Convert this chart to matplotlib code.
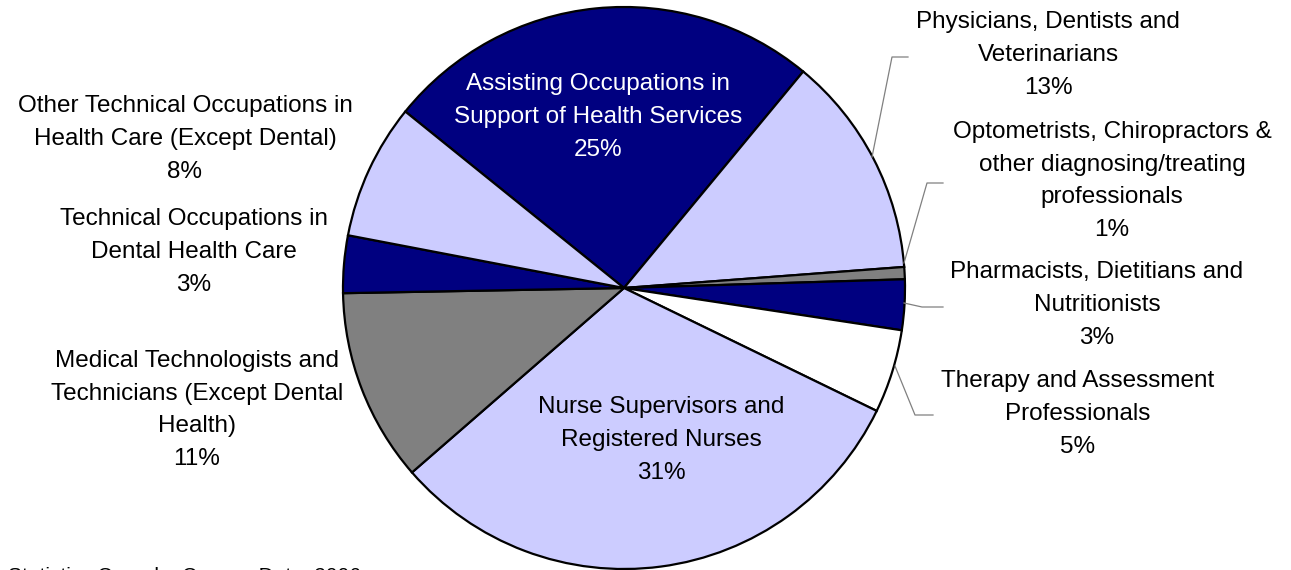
import matplotlib.pyplot as plt

plt.rcParams['font.family'] = ['Liberation Sans', 'DejaVu Sans']

# Shares of health occupations (percent), clockwise from upper left
categories = [
    'Assisting Occupations in\nSupport of Health Services',
    'Physicians, Dentists and\nVeterinarians',
    'Optometrists, Chiropractors &\nother diagnosing/treating\nprofessionals',
    'Pharmacists, Dietitians and\nNutritionists',
    'Therapy and Assessment\nProfessionals',
    'Nurse Supervisors and\nRegistered Nurses',
    'Medical Technologists and\nTechnicians (Except Dental\nHealth)',
    'Technical Occupations in\nDental Health Care',
    'Other Technical Occupations in\nHealth Care (Except Dental)',
]
shares = [25.2, 12.8, 0.7, 2.9, 4.8, 31.4, 11.1, 3.3, 7.8]
colors = ['#000080', '#CCCCFF', '#808080', '#000080', '#FFFFFF',
          '#CCCCFF', '#808080', '#000080', '#CCCCFF']
source = 'Statistics Canada, Census Data, 2006'

W, H = 1291, 570
fig = plt.figure(figsize=(W / 100, H / 100), dpi=100)
ax = fig.add_axes([0, 0, 1, 1])

cx, cy, r = 624, H - 288, 281
ax.pie(shares, colors=colors, startangle=141.1, counterclock=False,
       center=(cx, cy), radius=r, frame=True,
       wedgeprops=dict(edgecolor='black', linewidth=1.6))
ax.set_xlim(0, W)
ax.set_ylim(0, H)
ax.axis('off')

# label anchor positions (pixel coords from top)
label_pos = [(598, 117), (1048, 55), (1112, 181), (1097, 305), (1078, 414),
             (661, 440), (197, 410), (194, 252), (185, 139)]
txt_colors = ['white'] + ['black'] * 8
for name, v, (x, y), c in zip(categories, shares, label_pos, txt_colors):
    ax.text(x, H - y, f'{name}\n{round(v)}%', ha='center', va='center',
            fontsize=17.5, color=c, linespacing=1.63)

# leader lines for right-side labels
leaders = [
    [(872, 157), (892, 57), (908, 57)],
    [(904, 263), (927, 183), (943, 183)],
    [(904, 303), (922, 307), (943, 307)],
    [(895, 366), (915, 415), (933, 415)],
]
for pts in leaders:
    ax.plot([p[0] for p in pts], [H - p[1] for p in pts],
            color='#808080', linewidth=0.9)

ax.text(8, H - 567, source, ha='left', va='top', fontsize=15)

fig.savefig('out.png', dpi=100)
